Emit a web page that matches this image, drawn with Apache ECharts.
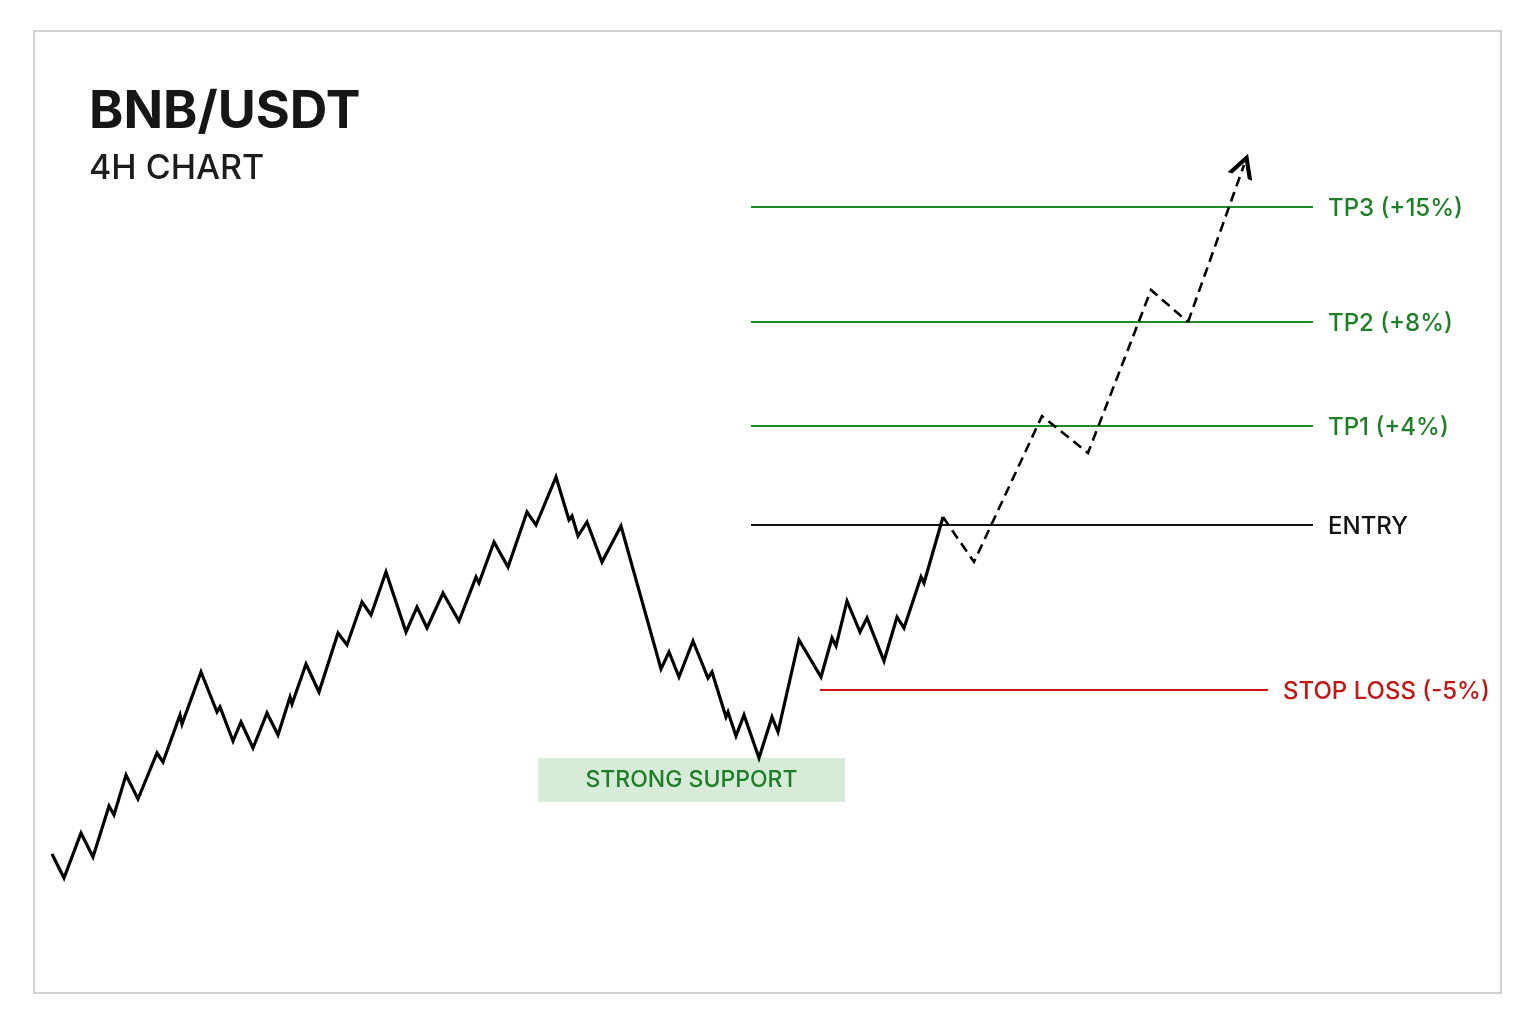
<!DOCTYPE html>
<html>
<head>
<meta charset="utf-8">
<script src="https://cdn.jsdelivr.net/npm/echarts@6/dist/echarts.min.js"></script>
<style>
  html, body { margin: 0; padding: 0; background: #fff; }
  #main { width: 1536px; height: 1024px; }
</style>
</head>
<body>
<div id="main"></div>
<script>
// eje x: tiempo (velas), eje y: nivel de precio (escala del dibujo)
var priceX = [52,64,81,93,109,114,126,138,157,163,180,182,201,217,220,233,241,253,267,278,
              290,292,306,319,338,347,362,371,386,406,417,427,443,459,476,479,494,508,527,536,
              556,569,572,578,587,602,621,661,669,679,693,708,712,726,728,736,744,759,772,778,
              799,821,832,836,847,860,867,884,897,904,921,924,943];
var priceY = [146,122,167,143,194,185,225,201,247,238,285,276,328,288,293,259,278,252,287,265,
              303,296,336,308,367,355,398,385,428,368,393,372,407,379,423,417,458,433,488,475,
              523,480,484,464,478,438,474,331,348,323,359,322,328,283,288,264,285,242,283,268,
              360,323,362,354,399,368,382,339,383,372,423,417,483];

// proyección (línea discontinua) y punta de flecha
var projX = [943,974,1042,1088,1151,1188];
var projY = [483,438,584,547,710,678];
var arrowTip = [1244,835];

// niveles
var levelNames = ['TP3 (+15%)','TP2 (+8%)','TP1 (+4%)','ENTRY','STOP LOSS (-5%)'];
var levelValues = [793,678,574,475,310];
var levelStart = [751,751,751,751,820];
var levelEnd = [1313,1313,1313,1313,1268];
var levelColors = ['#1f8a2b','#1f8a2b','#1f8a2b','#111111','#cc1414'];
var labelColors = ['#1d7f27','#1d7f27','#1d7f27','#111111','#c41515'];

// zona de soporte
var supportX = [538,845];
var supportY = [242,198];

var FONT = 'Inter, "Liberation Sans", Arial, sans-serif';

function zip(xs, ys){
    var out = [];
    for (var i = 0; i < xs.length; i++) out.push([xs[i], ys[i]]);
    return out;
}

var series = [];
//serie de precio
series.push({
    type: 'line',
    data: zip(priceX, priceY),
    symbol: 'none',
    silent: true,
    z: 5,
    lineStyle: { color: '#000', width: 3.2, join: 'miter' },
    markArea: {
        silent: true,
        itemStyle: { color: '#d6ecd8' },
        label: {
            show: true, position: 'inside', color: '#1f7d2a',
            fontSize: 23, fontWeight: 500, fontFamily: FONT
        },
        data: [[
            { name: 'STRONG SUPPORT', coord: [supportX[0], supportY[0]] },
            { coord: [supportX[1], supportY[1]] }
        ]]
    }
});
//proyección
series.push({
    type: 'line',
    data: zip(projX, projY),
    symbol: 'none',
    silent: true,
    z: 5,
    lineStyle: { color: '#000', width: 2.6, type: [10, 6], join: 'miter' },
    markLine: {
        silent: true,
        symbol: ['none', 'path://M0,12 L6,0 L12,12 L9.8,12 L6,4.4 L2.2,12 Z'],
        symbolSize: [26, 24],
        lineStyle: { color: '#000', width: 2.6, type: [10, 6] },
        label: { show: false },
        data: [[
            { coord: [projX[projX.length - 1], projY[projY.length - 1]] },
            { coord: arrowTip }
        ]]
    }
});
//niveles
levelNames.forEach(function(name, i){
    series.push({
        type: 'line',
        name: name,
        data: [[levelStart[i], levelValues[i]], [levelEnd[i], levelValues[i]]],
        symbol: 'none',
        silent: true,
        z: 3,
        lineStyle: { color: levelColors[i], width: 2.2 },
        endLabel: {
            show: true,
            formatter: name,
            color: labelColors[i],
            fontSize: 24,
            fontWeight: 500,
            fontFamily: FONT,
            distance: 15,
            offset: [0, 2]
        }
    });
});

var chart = echarts.init(document.getElementById('main'));
var option = {
    animation: false,
    backgroundColor: '#ffffff',
    title: {
        text: 'BNB/USDT',
        subtext: '4H CHART',
        left: 84,
        top: 81,
        itemGap: 14,
        textStyle: { fontSize: 52, fontWeight: 'bold', color: '#161616', fontFamily: FONT },
        subtextStyle: { fontSize: 34, fontWeight: 500, color: '#1c1c1c', fontFamily: FONT }
    },
    grid: { left: 0, right: 0, top: 0, bottom: 24 },
    xAxis: { type: 'value', min: 0, max: 1536, show: false },
    yAxis: { type: 'value', min: 0, max: 1000, show: false },
    graphic: [{
        type: 'rect',
        silent: true,
        z: 0,
        shape: { x: 34, y: 31, width: 1467, height: 962 },
        style: { fill: 'none', stroke: '#c4c4c4', lineWidth: 1.5 }
    }],
    series: series
};
chart.setOption(option);
</script>
</body>
</html>
